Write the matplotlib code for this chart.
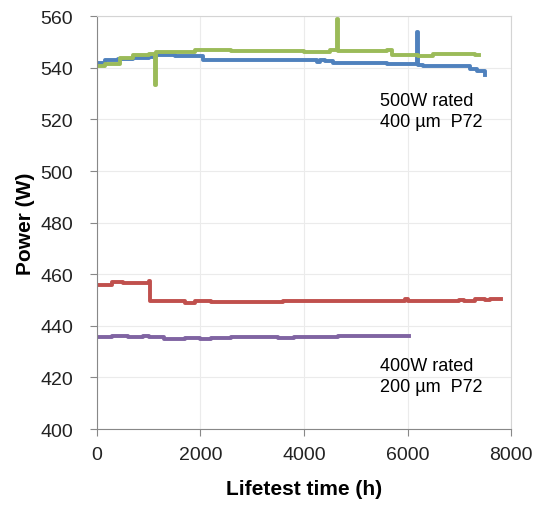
"""
Lifetest power vs time, recreated
"""

import matplotlib.pyplot as plt
import matplotlib

matplotlib.rcParams['font.family'] = ['Liberation Sans', 'DejaVu Sans']

# 500W rated, 400 um, device A (blue)
blue_t = [0, 150, 400, 700, 1000, 1150, 1500, 2000, 2050, 2600, 3200, 3800,
          4250, 4300, 4400, 4560, 5000, 5600, 6100, 6190, 6210, 6300, 6760,
          7200, 7350, 7500]
blue_p = [541.8, 543.0, 543.6, 543.9, 544.2, 544.8, 544.6, 544.5, 543.2, 543.0,
          543.1, 543.0, 542.4, 543.1, 542.5, 541.9, 541.8, 541.6, 541.5, 554.0,
          541.2, 540.8, 540.6, 539.6, 538.6, 537.4]

# 500W rated, 400 um, device B (green)
green_t = [0, 150, 450, 700, 1000, 1120, 1140, 1600, 1900, 2600, 3000, 3500,
           4000, 4500, 4640, 4660, 5000, 5600, 5700, 6200, 6500, 7000, 7300, 7380]
green_p = [540.8, 541.5, 543.8, 544.8, 545.2, 533.2, 546.3, 546.0, 546.8, 546.5,
           546.4, 546.6, 546.3, 546.8, 559.0, 546.5, 546.6, 546.8, 545.0, 544.6,
           545.3, 545.2, 545.0, 545.0]

# 400W rated, 200 um (red)
red_t = [0, 300, 500, 1000, 1030, 1500, 1700, 1900, 2200, 3600, 3800, 4400,
         5950, 6000, 6100, 7000, 7100, 7300, 7500, 7600, 7800]
red_p = [456.0, 456.9, 456.6, 457.3, 449.5, 449.6, 449.0, 449.6, 449.4, 449.8,
         449.5, 449.6, 450.3, 449.6, 449.5, 449.9, 449.5, 450.5, 450.0, 450.6, 450.6]

# 400W rated, 200 um (purple)
purple_t = [0, 300, 600, 900, 1000, 1300, 1700, 2000, 2200, 2600, 3100, 3500,
            3800, 4000, 4500, 4650, 6030]
purple_p = [435.6, 435.9, 435.6, 435.9, 435.6, 435.1, 435.4, 435.0, 435.4,
            435.6, 435.5, 435.2, 435.8, 435.5, 435.5, 435.9, 435.9]

x_ticks = [0, 2000, 4000, 6000, 8000]
y_ticks = [400, 420, 440, 460, 480, 500, 520, 540, 560]

fig = plt.figure(figsize=(5.38, 5.06), dpi=100)
ax = fig.add_axes([0.180, 0.150, 0.770, 0.816])

lw = 2.8
ax.plot(blue_t, blue_p, color="#4F81BD", linewidth=lw, drawstyle="steps-post")
ax.plot(green_t, green_p, color="#9BBB59", linewidth=lw, drawstyle="steps-post")
ax.plot(red_t, red_p, color="#C0504D", linewidth=lw, drawstyle="steps-post")
ax.plot(purple_t, purple_p, color="#8064A2", linewidth=lw, drawstyle="steps-post")

ax.set_xlim(0, 8000)
ax.set_ylim(400, 560)
ax.set_xticks(x_ticks)
ax.set_yticks(y_ticks)
ax.tick_params(labelsize=14, colors="#222222", length=5, direction="out")
ax.tick_params(axis="both", color="#888888")
ax.tick_params(axis="x", pad=7)
ax.tick_params(axis="y", pad=12)

ax.grid(color="#ebebeb", linewidth=0.8)
ax.set_axisbelow(True)
for side in ["left", "bottom"]:
    ax.spines[side].set_color("#888888")
for side in ["top", "right"]:
    ax.spines[side].set_color("#d4d4d4")

ax.set_xlabel("Lifetest time (h)", fontsize=15, fontweight="bold", labelpad=12)
ax.set_ylabel("Power (W)", fontsize=15, fontweight="bold", labelpad=4)

ax.text(5470, 523.2, "500W rated\n400 µm  P72", fontsize=13, ha="left",
        va="center", linespacing=1.3)
ax.text(5470, 420.5, "400W rated\n200 µm  P72", fontsize=13, ha="left",
        va="center", linespacing=1.3)

plt.savefig("out.png", dpi=100)
plt.close()
